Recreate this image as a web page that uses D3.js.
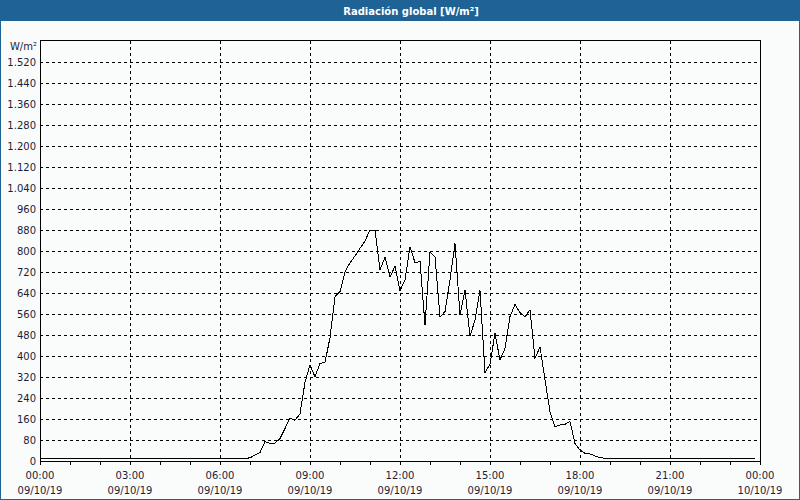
<!DOCTYPE html>
<html>
<head>
<meta charset="utf-8">
<script src="https://cdn.jsdelivr.net/npm/d3@7"></script>
<style>
  html, body { margin: 0; padding: 0; background: #fafcfc; }
  svg { display: block; }
</style>
</head>
<body>
<svg id="chart" width="800" height="500"></svg>
<script>
// ---- data ----
const titleText = "Radiación global [W/m²]";
const unitLabel = "W/m²";
const startTime = "2019-10-09T00:00:00";
const stepMinutes = 10;
// 10-minute global radiation values (W/m²), 00:00 to 23:50
const radiation = [
  10, 10, 10, 10, 10, 10, 10, 10, 10, 10, 10, 10,
  10, 10, 10, 10, 10, 10, 10, 10, 10, 10, 10, 10,
  10, 10, 10, 10, 10, 10, 10, 10, 10, 10, 10, 10,
  10, 10, 10, 10, 10, 10, 12, 23, 32, 74, 67, 68,
  86, 124, 163, 155, 180, 300, 366, 321, 372, 375, 470, 626,
  645, 721, 755, 781, 810, 838, 880, 880, 728, 776, 700, 742,
  649, 690, 816, 756, 760, 518, 796, 778, 549, 569, 690, 829,
  556, 652, 475, 537, 650, 335, 370, 486, 385, 429, 550, 596,
  565, 549, 576, 391, 435, 309, 188, 131, 137, 140, 150, 67,
  42, 29, 27, 19, 13, 10, 10, 10, 10, 10, 10, 10,
  10, 10, 10, 10, 10, 10, 10, 10, 10, 10, 10, 10,
  10, 10, 10, 10, 10, 10, 10, 10, 10, 10, 10, 10
];
const yTickValues = [0, 80, 160, 240, 320, 400, 480, 560, 640, 720, 800, 880, 960, 1040, 1120, 1200, 1280, 1360, 1440, 1520];
const yTickLabels = ["0", "80", "160", "240", "320", "400", "480", "560", "640", "720", "800", "880", "960", "1.040", "1.120", "1.200", "1.280", "1.360", "1.440", "1.520"];
const xTickTimes = ["00:00", "03:00", "06:00", "09:00", "12:00", "15:00", "18:00", "21:00", "00:00"];
const xTickDates = ["09/10/19", "09/10/19", "09/10/19", "09/10/19", "09/10/19", "09/10/19", "09/10/19", "09/10/19", "10/10/19"];
const xTickHours = [0, 3, 6, 9, 12, 15, 18, 21, 24];
const yMax = 1600;

// ---- layout ----
const W = 800, H = 500;
const plot = { left: 40, right: 760, top: 41, bottom: 461 };
const font = "'DejaVu Sans', Verdana, sans-serif";
const textColor = "#1c1c3a";

const svg = d3.select("#chart");
const t0 = new Date(startTime);
const t1 = d3.timeHour.offset(t0, 24);
const x = d3.scaleTime().domain([t0, t1]).range([plot.left, plot.right]);
const y = d3.scaleLinear().domain([0, yMax]).range([plot.bottom, plot.top]);

const points = radiation.map((v, i) => ({ t: d3.timeMinute.offset(t0, i * stepMinutes), v }));

// background
svg.append("rect").attr("x", 0).attr("y", 0).attr("width", W).attr("height", H).attr("fill", "#fafcfc");

// title bar
svg.append("rect").attr("x", 0).attr("y", 0).attr("width", W).attr("height", 21).attr("fill", "#1e6296");
svg.append("text").attr("x", 411).attr("y", 11).attr("dy", "0.35em")
  .attr("text-anchor", "middle").attr("fill", "#ffffff")
  .attr("font-family", font).attr("font-size", "10px").attr("font-weight", "bold")
  .text(titleText);

// outer frame
svg.append("rect").attr("x", 0.5).attr("y", 0.5).attr("width", W - 1).attr("height", H - 1)
  .attr("fill", "none").attr("stroke", "#1e6296").attr("stroke-width", 1);

// horizontal grid
svg.append("g").selectAll("line").data(yTickValues.filter(v => v > 0)).join("line")
  .attr("x1", plot.left).attr("x2", plot.right)
  .attr("y1", d => Math.round(y(d)) + 0.5).attr("y2", d => Math.round(y(d)) + 0.5)
  .attr("stroke", "#000").attr("stroke-width", 1).attr("stroke-dasharray", "3,3")
  .attr("shape-rendering", "crispEdges");

// vertical grid
svg.append("g").selectAll("line").data(xTickHours.filter(h => h > 0 && h < 24)).join("line")
  .attr("x1", h => Math.round(x(d3.timeHour.offset(t0, h))) + 0.5)
  .attr("x2", h => Math.round(x(d3.timeHour.offset(t0, h))) + 0.5)
  .attr("y1", plot.top).attr("y2", plot.bottom)
  .attr("stroke", "#000").attr("stroke-width", 1).attr("stroke-dasharray", "3,3")
  .attr("shape-rendering", "crispEdges");

// plot frame
svg.append("rect").attr("x", plot.left + 0.5).attr("y", plot.top - 0.5)
  .attr("width", plot.right - plot.left).attr("height", plot.bottom - plot.top + 0.5)
  .attr("fill", "none").attr("stroke", "#000").attr("stroke-width", 1)
  .attr("shape-rendering", "crispEdges");

// hourly minor ticks below axis
const hourTicks = d3.range(0, 25);
svg.append("g").selectAll("line").data(hourTicks).join("line")
  .attr("x1", h => Math.round(x(d3.timeHour.offset(t0, h))) + 0.5)
  .attr("x2", h => Math.round(x(d3.timeHour.offset(t0, h))) + 0.5)
  .attr("y1", plot.bottom).attr("y2", plot.bottom + 4)
  .attr("stroke", "#000").attr("shape-rendering", "crispEdges");

// y labels
svg.append("g").selectAll("text").data(yTickValues).join("text")
  .attr("x", 36).attr("y", d => y(d)).attr("dy", "0.35em")
  .attr("text-anchor", "end").attr("fill", textColor)
  .attr("font-family", font).attr("font-size", "10px")
  .text((d, i) => yTickLabels[i]);

svg.append("text").attr("x", 37).attr("y", 46.5).attr("dy", "0.35em")
  .attr("text-anchor", "end").attr("fill", textColor)
  .attr("font-family", font).attr("font-size", "10px")
  .text(unitLabel);

// x labels
const xl = svg.append("g").selectAll("g").data(xTickHours).join("g");
xl.append("text")
  .attr("x", h => x(d3.timeHour.offset(t0, h))).attr("y", 475.5).attr("dy", "0.35em")
  .attr("text-anchor", "middle").attr("fill", textColor)
  .attr("font-family", font).attr("font-size", "10px")
  .text((h, i) => xTickTimes[i]);
xl.append("text")
  .attr("x", h => x(d3.timeHour.offset(t0, h))).attr("y", 490.5).attr("dy", "0.35em")
  .attr("text-anchor", "middle").attr("fill", textColor)
  .attr("font-family", font).attr("font-size", "10px")
  .text((h, i) => xTickDates[i]);

// data line
const line = d3.line().x(d => x(d.t)).y(d => y(d.v));
svg.append("path").datum(points)
  .attr("d", line).attr("fill", "none").attr("stroke", "#000").attr("stroke-width", 1)
  .attr("shape-rendering", "crispEdges");
</script>
</body>
</html>
